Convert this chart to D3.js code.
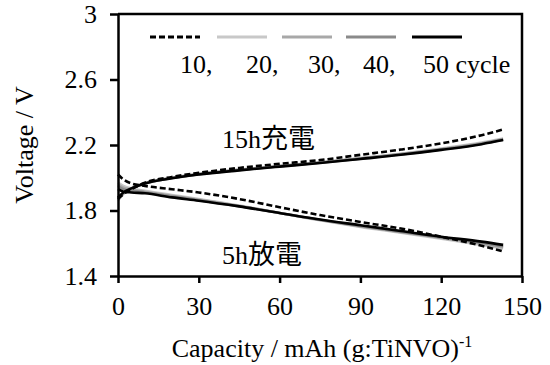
<!DOCTYPE html>
<html lang="en-US">
<head>
    <title>Voltage vs Capacity</title>
    <meta charset="utf-8">
    <script src="https://cdn.jsdelivr.net/npm/d3@7"></script>
    <style>
        body { margin: 0; background: white; }
        svg text { font-family: 'Liberation Serif', 'Times New Roman', serif; }
        svg text .cjk { font-family: 'Noto Sans CJK JP', sans-serif; }
    </style>
</head>
<body>
    <svg></svg>
</body>
<script>

    // Capacity points (mAh/g) shared by all curves
    const capacity = [0, 2, 5, 10, 20, 30, 45, 60, 75, 90, 105, 120, 135, 143];

    // Charge (15h) voltages per cycle
    const charge10 = [1.87, 1.90, 1.93, 1.97, 2.005, 2.03, 2.06, 2.085, 2.108, 2.14, 2.172, 2.21, 2.26, 2.295];
    const charge20 = [1.86, 1.90, 1.935, 1.967, 2.0, 2.024, 2.05, 2.073, 2.095, 2.12, 2.147, 2.178, 2.215, 2.24];
    const charge30 = [1.87, 1.905, 1.935, 1.966, 1.999, 2.022, 2.048, 2.071, 2.093, 2.118, 2.145, 2.175, 2.21, 2.236];
    const charge40 = [1.875, 1.907, 1.935, 1.965, 1.998, 2.021, 2.047, 2.07, 2.092, 2.117, 2.143, 2.173, 2.208, 2.233];
    const charge50 = [1.88, 1.91, 1.935, 1.965, 1.997, 2.02, 2.045, 2.068, 2.09, 2.115, 2.14, 2.17, 2.205, 2.23];

    // Discharge (5h) voltages per cycle
    const discharge10 = [2.02, 1.99, 1.965, 1.95, 1.93, 1.91, 1.87, 1.82, 1.772, 1.73, 1.69, 1.64, 1.585, 1.55];
    const discharge20 = [1.97, 1.95, 1.935, 1.92, 1.895, 1.87, 1.83, 1.785, 1.74, 1.70, 1.665, 1.628, 1.59, 1.568];
    const discharge30 = [1.96, 1.94, 1.928, 1.915, 1.89, 1.866, 1.828, 1.785, 1.742, 1.703, 1.668, 1.632, 1.597, 1.575];
    const discharge40 = [1.95, 1.93, 1.92, 1.91, 1.886, 1.863, 1.826, 1.785, 1.744, 1.706, 1.671, 1.636, 1.603, 1.582];
    const discharge50 = [1.93, 1.915, 1.91, 1.905, 1.88, 1.86, 1.825, 1.785, 1.745, 1.71, 1.675, 1.64, 1.61, 1.59];

    const cycles = ['10,', '20,', '30,', '40,', '50 cycle'];
    const colors = ['#000000', '#c8c8c8', '#a8a8a8', '#8a8a8a', '#000000'];
    const dashes = ['6,3', null, null, null, null];

    const xTicks = [0, 30, 60, 90, 120, 150];
    const yTicks = [1.4, 1.8, 2.2, 2.6, 3];

    const chargeSeries = [charge10, charge20, charge30, charge40, charge50];
    const dischargeSeries = [discharge10, discharge20, discharge30, discharge40, discharge50];

    let opt = {
        width: 550,
        height: 365,
        size: '26px',
        bounds: { left: 118, right: 522, top: 14, bottom: 276 }
    };

    let svg = d3.select('svg')
        .attr('width', opt.width)
        .attr('height', opt.height);

    let xScale = d3.scaleLinear()
        .domain([0, 150])
        .range([opt.bounds.left, opt.bounds.right]);

    let yScale = d3.scaleLinear()
        .domain([1.4, 3])
        .range([opt.bounds.bottom, opt.bounds.top]);

    // Curves (lighter cycles first, then dashed and black on top)
    let line = d3.line()
        .x((d) => xScale(d[0]))
        .y((d) => yScale(d[1]))
        .curve(d3.curveMonotoneX);

    let order = [1, 2, 3, 4, 0];
    let curves = svg.append('g').attr('id', 'curves');
    order.forEach((i) => {
        [chargeSeries[i], dischargeSeries[i]].forEach((vals) => {
            curves.append('path')
                .datum(capacity.map((c, j) => [c, vals[j]]))
                .attr('d', line)
                .style('fill', 'none')
                .style('stroke', colors[i])
                .style('stroke-width', 2.6)
                .style('stroke-dasharray', dashes[i]);
        });
    });

    // Axes
    let x_axis = svg.append('g')
        .attr('transform', `translate(0,${opt.bounds.bottom})`)
        .call(d3.axisBottom(xScale).tickValues(xTicks).tickSize(7).tickPadding(14).tickSizeOuter(0));

    let y_axis = svg.append('g')
        .attr('transform', `translate(${opt.bounds.left},0)`)
        .call(d3.axisLeft(yScale).tickValues(yTicks).tickSize(8).tickPadding(13).tickSizeOuter(0)
            .tickFormat(d3.format('')));

    [x_axis, y_axis].forEach((ax) => {
        ax.attr('font-family', null).attr('font-size', null);
        ax.select('.domain').style('stroke', 'black').style('stroke-width', 2.5);
        ax.selectAll('.tick line').style('stroke', 'black').style('stroke-width', 2.5);
        ax.selectAll('.tick text')
            .style('font-size', opt.size)
            .style('fill', 'black');
    });

    // Top and right frame
    svg.append('path')
        .attr('d', `M${opt.bounds.left},${opt.bounds.top}H${opt.bounds.right}V${opt.bounds.bottom}`)
        .style('fill', 'none')
        .style('stroke', 'black')
        .style('stroke-width', 2.5);

    // Legend
    let legend = svg.append('g').attr('id', 'legend');
    const legendX = [150, 217, 282, 346, 412];
    const labelX = [180, 246, 308, 363, 423];
    cycles.forEach((c, i) => {
        legend.append('line')
            .attr('x1', legendX[i])
            .attr('x2', legendX[i] + 50)
            .attr('y1', 37)
            .attr('y2', 37)
            .style('stroke', colors[i])
            .style('stroke-width', 3)
            .style('stroke-dasharray', dashes[i]);
        legend.append('text')
            .attr('x', labelX[i])
            .attr('y', 73)
            .style('font-size', opt.size)
            .text(c);
    });

    // Annotations
    let charge_label = svg.append('text')
        .attr('x', 222)
        .attr('y', 148)
        .style('font-size', opt.size)
        .text('15h');
    charge_label.append('tspan')
        .attr('class', 'cjk')
        .style('font-size', '27px')
        .text('充電');

    let discharge_label = svg.append('text')
        .attr('x', 222)
        .attr('y', 264)
        .style('font-size', opt.size)
        .text('5h');
    discharge_label.append('tspan')
        .attr('class', 'cjk')
        .style('font-size', '27px')
        .text('放電');

    // Axis titles
    let x_title = svg.append('text')
        .attr('x', 322)
        .attr('y', 357)
        .attr('text-anchor', 'middle')
        .style('font-size', opt.size)
        .text('Capacity / mAh (g:TiNVO)');
    x_title.append('tspan')
        .attr('dy', -10)
        .style('font-size', '16px')
        .text('-1');

    svg.append('text')
        .attr('text-anchor', 'middle')
        .attr('transform', `translate(33,${(opt.bounds.top + opt.bounds.bottom) / 2})rotate(-90)`)
        .style('font-size', opt.size)
        .text('Voltage / V');

</script>
</html>
